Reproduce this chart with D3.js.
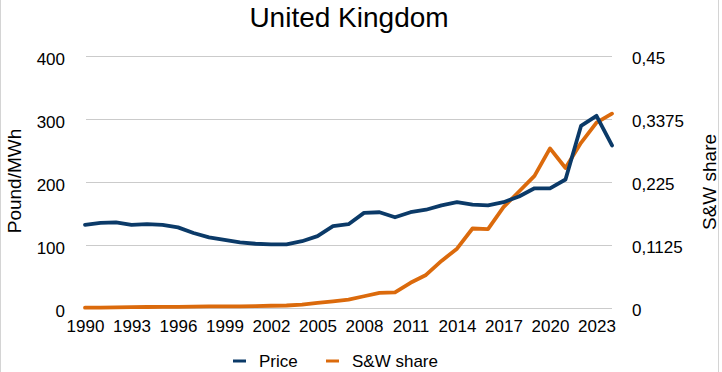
<!DOCTYPE html>
<html>
<head>
<meta charset="utf-8">
<script src="https://cdn.jsdelivr.net/npm/d3@7"></script>
<style>
	body { margin: 0; background: #fff; }
	svg { display: block; font-family: 'Liberation Sans', Arial, sans-serif; }
</style>
</head>
<body>
<div id="chart"></div>
<script>
// data
const years = d3.range(1990, 2025);
const price = [132, 135, 136, 132, 133, 132, 128, 119, 112, 108, 104, 102, 101, 101, 106, 114,
	130, 133, 151, 152, 144, 152, 156, 163, 168, 164, 163, 168, 177, 190, 190, 204, 289, 305, 258];
const swShare = [0.0005, 0.0005, 0.001, 0.0015, 0.0018, 0.002, 0.002, 0.0025, 0.003, 0.003, 0.003, 0.0035,
	0.004, 0.0045, 0.006, 0.009, 0.012, 0.015, 0.021, 0.027, 0.028, 0.045, 0.059, 0.084, 0.106, 0.142,
	0.141, 0.180, 0.208, 0.236, 0.285, 0.250, 0.295, 0.331, 0.347];
const leftTicks = [0, 100, 200, 300, 400];
const rightTicks = [0, 0.1125, 0.225, 0.3375, 0.45];
const xTicks = d3.range(1990, 2024, 3);

const w = 722, h = 372;
const m = { left: 85, right: 110, top: 56, bottom: 64 };
const colors = { price: '#0b3a68', share: '#db6a0c', grid: '#cbcbcb' };
const fs = 17;

const svg = d3.select('#chart').append('svg')
	.attr('width', w)
	.attr('height', h)
	.attr('viewBox', `0 0 ${w} ${h}`);

// box edges
svg.append('line').attr('x1', 0.5).attr('x2', 0.5).attr('y1', 0).attr('y2', h).attr('stroke', '#d4d4d4');
svg.append('line').attr('x1', w - 3.5).attr('x2', w - 3.5).attr('y1', 0).attr('y2', h).attr('stroke', '#d4d4d4');

const x = d3.scaleLinear().domain([1990, 2024]).range([m.left, w - m.right]);
const yL = d3.scaleLinear().domain([0, 400]).range([h - m.bottom, m.top]);
const yR = d3.scaleLinear().domain([0, 0.45]).range([h - m.bottom, m.top]);

// grid
svg.append('g').selectAll('line')
	.data(leftTicks)
	.enter()
	.append('line')
	.attr('x1', m.left + 1)
	.attr('x2', w - m.right)
	.attr('y1', d => Math.round(yL(d)) + 0.5)
	.attr('y2', d => Math.round(yL(d)) + 0.5)
	.attr('stroke', colors.grid)
	.attr('stroke-width', 1.2);

const styleTicks = g => {
	g.select('.domain').remove();
	g.selectAll('text').attr('font-size', fs).attr('fill', '#000').attr('font-family', 'Liberation Sans, Arial, sans-serif');
};

// left axis
svg.append('g')
	.attr('transform', `translate(${m.left - 20},3)`)
	.call(d3.axisLeft(yL).tickValues(leftTicks).tickSize(0).tickPadding(0))
	.call(styleTicks);

// right axis
svg.append('g')
	.attr('transform', `translate(${w - m.right + 20},2)`)
	.call(d3.axisRight(yR).tickValues(rightTicks).tickSize(0).tickPadding(0)
		.tickFormat(d => String(d).replace('.', ',')))
	.call(styleTicks);

// x axis
svg.append('g')
	.attr('transform', `translate(0,${h - m.bottom + 8})`)
	.call(d3.axisBottom(x).tickValues(xTicks).tickFormat(d3.format('d')).tickSize(0).tickPadding(4))
	.call(styleTicks);

// lines
const lineL = d3.line().x((d, i) => x(years[i])).y(d => yL(d));
const lineR = d3.line().x((d, i) => x(years[i])).y(d => yR(d));

svg.append('path')
	.datum(swShare)
	.attr('d', lineR)
	.attr('fill', 'none')
	.attr('stroke', colors.share)
	.attr('stroke-width', 3.8)
	.attr('stroke-linejoin', 'round')
	.attr('stroke-linecap', 'round');

svg.append('path')
	.datum(price)
	.attr('d', lineL)
	.attr('fill', 'none')
	.attr('stroke', colors.price)
	.attr('stroke-width', 3.8)
	.attr('stroke-linejoin', 'round')
	.attr('stroke-linecap', 'round');

// title + axis titles
svg.append('text')
	.attr('x', 349).attr('y', 27)
	.attr('text-anchor', 'middle')
	.attr('font-size', 28)
	.text('United Kingdom');

svg.append('text')
	.attr('transform', 'translate(21,181) rotate(-90)')
	.attr('text-anchor', 'middle')
	.attr('font-size', 19)
	.text('Pound/MWh');

svg.append('text')
	.attr('transform', 'translate(716,182) rotate(-90)')
	.attr('text-anchor', 'middle')
	.attr('font-size', 19)
	.text('S&W share');

// legend
const legend = [{ name: 'Price', c: colors.price, x: 233 }, { name: 'S&W share', c: colors.share, x: 326 }];
const lg = svg.append('g').selectAll('g')
	.data(legend)
	.enter()
	.append('g')
	.attr('transform', d => `translate(${d.x},361)`);
lg.append('line').attr('x1', 0).attr('x2', 13).attr('stroke', d => d.c).attr('stroke-width', 3);
lg.append('text').attr('x', 26).attr('dy', '0.35em').attr('font-size', fs).text(d => d.name);
</script>
</body>
</html>
